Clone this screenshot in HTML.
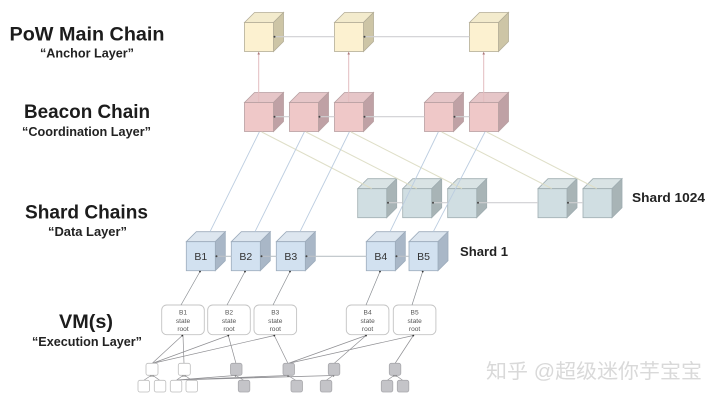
<!DOCTYPE html>
<html><head><meta charset="utf-8">
<style>
html,body{margin:0;padding:0;background:#fff;width:720px;height:400px;overflow:hidden}
svg{display:block;filter:blur(0.35px)}
text{font-family:"Liberation Sans","Noto Sans CJK SC",sans-serif}
.t{font-weight:bold;font-size:19.5px;fill:#1c1c1c}
.s{font-weight:bold;font-size:12.5px;fill:#222}
.n{font-size:10.5px;fill:#333;text-anchor:middle}
.r{font-size:6.6px;fill:#555;text-anchor:middle}
.b{fill:#fff;stroke:#c4c4c4;stroke-width:.9}
.w{fill:#fff;stroke:#bdbdbd;stroke-width:.8}
.g{fill:#c4c4c8;stroke:#a8a8ac;stroke-width:.8}
</style></head><body>
<svg width="720" height="400" viewBox="0 0 720 400" xmlns="http://www.w3.org/2000/svg">
<defs>
<g id="y" stroke="#b3ad97" stroke-width=".8"><polygon points="0,0 10,-10 39,-10 29,0" fill="#f3ebcd"/><polygon points="29,0 39,-10 39,19 29,29" fill="#cdc5a6"/><rect width="29" height="29" fill="#fcf1d0"/></g>
<g id="p" stroke="#b79fa1" stroke-width=".8"><polygon points="0,0 10,-10 39,-10 29,0" fill="#e6c6c8"/><polygon points="29,0 39,-10 39,19 29,29" fill="#bfa1a5"/><rect width="29" height="29" fill="#efc8c8"/></g>
<g id="c" stroke="#9fadb1" stroke-width=".8"><polygon points="0,0 10,-10 39,-10 29,0" fill="#d9e3e4"/><polygon points="29,0 39,-10 39,19 29,29" fill="#a8b4b6"/><rect width="29" height="29" fill="#d0dee2"/></g>
<g id="l" stroke="#9dacbc" stroke-width=".8"><polygon points="0,0 10,-10 39,-10 29,0" fill="#dde6ef"/><polygon points="29,0 39,-10 39,19 29,29" fill="#a9b7c7"/><rect width="29" height="29" fill="#d2e1f0"/></g>
</defs>

<!-- titles -->
<text class="t" x="9.5" y="40.5" textLength="155" lengthAdjust="spacingAndGlyphs">PoW Main Chain</text>
<text class="s" x="40" y="57.5" textLength="94" lengthAdjust="spacingAndGlyphs">“Anchor Layer”</text>
<text class="t" x="24" y="118" textLength="126" lengthAdjust="spacingAndGlyphs">Beacon Chain</text>
<text class="s" x="22" y="136" textLength="129" lengthAdjust="spacingAndGlyphs">“Coordination Layer”</text>
<text class="t" x="25" y="218.5" textLength="123" lengthAdjust="spacingAndGlyphs">Shard Chains</text>
<text class="s" x="48" y="236" textLength="79" lengthAdjust="spacingAndGlyphs">“Data Layer”</text>
<text class="t" x="59" y="328" textLength="54" lengthAdjust="spacingAndGlyphs">VM(s)</text>
<text class="s" x="32" y="346" textLength="110" lengthAdjust="spacingAndGlyphs">“Execution Layer”</text>
<text class="s" x="632" y="202" textLength="73" lengthAdjust="spacingAndGlyphs">Shard 1024</text>
<text class="s" x="460" y="256" textLength="48" lengthAdjust="spacingAndGlyphs">Shard 1</text>

<!-- cubes -->
<use href="#y" x="244.5" y="22.5"/><use href="#y" x="334.5" y="22.5"/><use href="#y" x="469.5" y="22.5"/>
<use href="#p" x="244.5" y="102.5"/><use href="#p" x="289.5" y="102.5"/><use href="#p" x="334.5" y="102.5"/><use href="#p" x="424.5" y="102.5"/><use href="#p" x="469.5" y="102.5"/>
<use href="#c" x="357.7" y="188.7"/><use href="#c" x="402.7" y="188.7"/><use href="#c" x="447.7" y="188.7"/><use href="#c" x="538" y="188.7"/><use href="#c" x="583" y="188.7"/>
<use href="#l" x="186.3" y="241.7"/><use href="#l" x="231.3" y="241.7"/><use href="#l" x="276.3" y="241.7"/><use href="#l" x="366.3" y="241.7"/><use href="#l" x="409" y="241.7"/>

<!-- horizontal chain lines -->
<g stroke="#cfcfd2" stroke-width="1.2" fill="none">
<path d="M274 36.7H334.5M364 36.7H469.5"/>
<path d="M274 116.7H289.5M319 116.7H334.5M364 116.7H424.5M454 116.7H469.5"/>
<path d="M387 202.7H402.7M432 202.7H447.7M477 202.7H538M567.5 202.7H583"/>
</g>
<path d="M216 256.3H231.3M261 256.3H276.3M306 256.3H366.3M396 256.3H409" stroke="#bcc2c8" stroke-width="1.1" fill="none"/>
<g fill="#444">
<circle cx="274.5" cy="36.7" r="1"/><circle cx="364.5" cy="36.7" r="1"/>
<circle cx="274.5" cy="116.7" r="1"/><circle cx="319.5" cy="116.7" r="1"/><circle cx="364.5" cy="116.7" r="1"/><circle cx="454.5" cy="116.7" r="1"/>
<circle cx="388" cy="202.7" r="1"/><circle cx="433" cy="202.7" r="1"/><circle cx="478" cy="202.7" r="1"/><circle cx="568" cy="202.7" r="1"/>
<circle cx="216.5" cy="256.3" r="1"/><circle cx="261.5" cy="256.3" r="1"/><circle cx="306.5" cy="256.3" r="1"/><circle cx="396.5" cy="256.3" r="1"/>
</g>

<!-- pink verticals -->
<path d="M258.7 102V53M348.7 102V53M483.7 102V53" stroke="#e3bcbf" stroke-width="1" fill="none"/>
<path d="M257.4 54.5L258.7 51.8L260 54.5ZM347.4 54.5L348.7 51.8L350 54.5ZM482.4 54.5L483.7 51.8L485 54.5Z" fill="#a77"/>

<!-- beacon to teal -->
<path d="M261.7 132L371.7 188.5M306 132L416.7 188.5M351 132L462 188.5M441.7 132L551.7 188.5M486.7 132L596.7 188.5" stroke="#dfdfc8" stroke-width="1" fill="none"/>
<!-- beacon to blue -->
<path d="M210 231.7L259.3 132M255 231.7L304.3 132M300 231.7L349.3 132M390 231.7L438.3 132M433.3 231.7L485 132" stroke="#bccde0" stroke-width=".9" fill="none"/>

<!-- state roots -->
<rect class="b" x="161.7" y="305" width="42.6" height="29.7" rx="5"/>
<rect class="b" x="207.7" y="305" width="42.6" height="29.7" rx="5"/>
<rect class="b" x="254" y="305" width="42.6" height="29.7" rx="5"/>
<rect class="b" x="346.3" y="305" width="42.6" height="29.7" rx="5"/>
<rect class="b" x="393.3" y="305" width="42.6" height="29.7" rx="5"/>
<g class="r">
<text class="r" x="183" y="314.5">B1</text><text class="r" x="183" y="323">state</text><text class="r" x="183" y="331">root</text>
<text class="r" x="229" y="314.5">B2</text><text class="r" x="229" y="323">state</text><text class="r" x="229" y="331">root</text>
<text class="r" x="275.3" y="314.5">B3</text><text class="r" x="275.3" y="323">state</text><text class="r" x="275.3" y="331">root</text>
<text class="r" x="367.6" y="314.5">B4</text><text class="r" x="367.6" y="323">state</text><text class="r" x="367.6" y="331">root</text>
<text class="r" x="414.6" y="314.5">B5</text><text class="r" x="414.6" y="323">state</text><text class="r" x="414.6" y="331">root</text>
</g>

<!-- cube labels -->
<text class="n" x="200.8" y="260">B1</text><text class="n" x="245.8" y="260">B2</text><text class="n" x="290.8" y="260">B3</text><text class="n" x="380.8" y="260">B4</text><text class="n" x="423.5" y="260">B5</text>

<!-- state to blue -->
<path d="M181 305L200 271.5M227 305L245 271.5M273 305L290 271.5M366 305L380 271.5M412 305L422.7 271.5" stroke="#8b8f94" stroke-width=".7" fill="none"/>
<g fill="#333"><circle cx="200" cy="271.6" r=".9"/><circle cx="245" cy="271.6" r=".9"/><circle cx="290" cy="271.6" r=".9"/><circle cx="380" cy="271.6" r=".9"/><circle cx="422.7" cy="271.6" r=".9"/></g>

<!-- tree lines -->
<g stroke="#8f8f93" stroke-width=".7" fill="none">
<path d="M152 363.5L182.3 335.5M152 363.5L228.3 335.5M152 363.5L274.3 335.5M184 363.5L183 335.5M236 363.5L228.3 335.5M288 363.5L274.3 335.5M288 363.5L366 335.5M288 363.5L413.3 335.5M334 363.5L366 335.5M395 363.5L413.3 335.5"/>
<path d="M143.5 380.5L151 375.5M160 380.5L153 375.5M176 380.5L183 375.5M192 380.5L185 375.5M244 380.5L236 375.5M296 380.5L288 375.5M326 380.5L333 375.5M387 380.5L394 375.5M403 380.5L396 375.5"/>
<path d="M177 380L235 375.5M177 380L288 375.5M177 380L333 375.5" stroke-width=".8"/>
</g>
<g fill="#333">
<circle cx="182.3" cy="335.6" r=".9"/><circle cx="228.3" cy="335.6" r=".9"/><circle cx="274.3" cy="335.6" r=".9"/><circle cx="366" cy="335.6" r=".9"/><circle cx="413.3" cy="335.6" r=".9"/>
<circle cx="151" cy="375.7" r=".8"/><circle cx="153" cy="375.7" r=".8"/><circle cx="183" cy="375.7" r=".8"/><circle cx="185" cy="375.7" r=".8"/><circle cx="235.5" cy="375.7" r=".8"/><circle cx="288" cy="375.7" r=".8"/><circle cx="333.5" cy="375.7" r=".8"/><circle cx="394" cy="375.7" r=".8"/><circle cx="396" cy="375.7" r=".8"/>
</g>

<!-- small squares -->
<rect class="w" x="146" y="363.3" width="12" height="12" rx="2"/>
<rect class="w" x="178.3" y="363.3" width="12" height="12" rx="2"/>
<rect class="g" x="230.5" y="363.3" width="11.5" height="12" rx="2"/>
<rect class="g" x="283" y="363.3" width="11.5" height="12" rx="2"/>
<rect class="g" x="328.3" y="363.3" width="11.5" height="12" rx="2"/>
<rect class="g" x="389.3" y="363.3" width="11.5" height="12" rx="2"/>
<rect class="w" x="138" y="380.3" width="11.5" height="11.7" rx="2"/>
<rect class="w" x="154.3" y="380.3" width="11.5" height="11.7" rx="2"/>
<rect class="w" x="170.3" y="380.3" width="11.5" height="11.7" rx="2"/>
<rect class="w" x="186" y="380.3" width="11.5" height="11.7" rx="2"/>
<rect class="g" x="238.3" y="380.3" width="11.5" height="11.7" rx="2"/>
<rect class="g" x="291" y="380.3" width="11.5" height="11.7" rx="2"/>
<rect class="g" x="320.3" y="380.3" width="11.5" height="11.7" rx="2"/>
<rect class="g" x="381.3" y="380.3" width="11.5" height="11.7" rx="2"/>
<rect class="g" x="397.3" y="380.3" width="11.5" height="11.7" rx="2"/>

<!-- watermark -->
<text x="486" y="378" font-size="20" fill="#d9d9d9" textLength="216" lengthAdjust="spacingAndGlyphs">知乎 @超级迷你芋宝宝</text>
</svg>
</body></html>
